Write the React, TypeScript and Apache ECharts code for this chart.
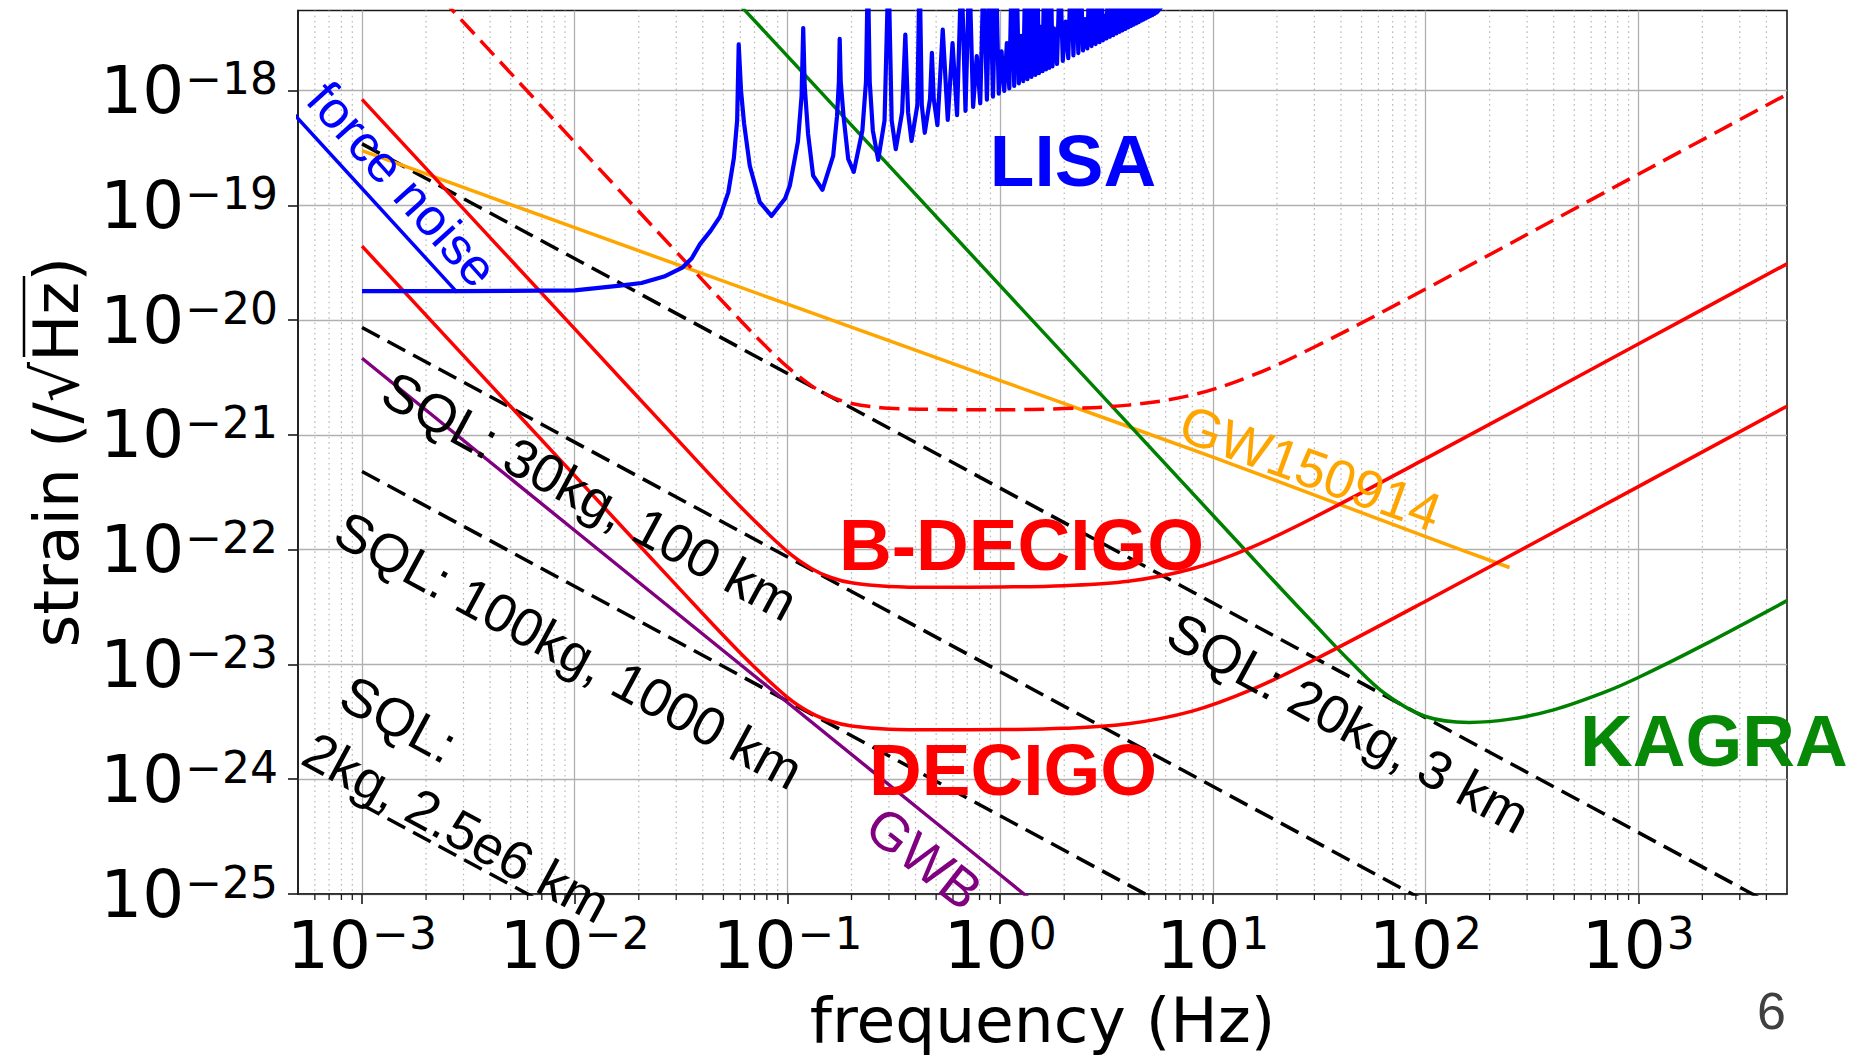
import React, { useEffect, useRef } from 'react';
import * as echarts from 'echarts';

// ---------- axis ranges & ticks ----------
const X_MIN = 5e-4;
const X_MAX = 5e3;
const Y_MIN = 1e-25;
const Y_MAX = 5e-18;

const xTickValues = [1e-3, 1e-2, 1e-1, 1, 10, 100, 1000];
const xTickExponents = ['−3', '−2', '−1', '0', '1', '2', '3'];
const yTickValues = [1e-25, 1e-24, 1e-23, 1e-22, 1e-21, 1e-20, 1e-19, 1e-18];
const yTickExponents = ['−25', '−24', '−23', '−22', '−21', '−20', '−19', '−18'];
const minorMantissas = [2, 3, 4, 5, 6, 7, 8, 9];
const minorDecades = [1e-4, 1e-3, 1e-2, 1e-1, 1, 10, 100, 1000];

// ---------- series data: [frequency (Hz), strain (/sqrt Hz)] ----------
const sql20kg3km = [[0.001, 3.44e-19], [10000, 3.44e-26]];
const sql30kg100km = [[0.001, 8.65e-21], [100, 8.65e-26]];
const sql100kg1000km = [[0.001, 4.8e-22], [10, 4.8e-26]];
const sql2kg = [[0.001, 6.0e-25], [0.01, 6.0e-26]];

const gwb = [[0.001, 4.66e-21], [0.01, 1.47e-22], [0.1, 4.66e-24], [1, 1.47e-25], [2, 5.2e-26]];

const gw150914 = [[0.001, 3.0e-19], [0.01, 6.4e-20], [0.1, 1.38e-20], [1, 2.98e-21], [10, 6.4e-22], [100, 1.3e-22], [248, 7.0e-23]];

const kagra = [[0.03, 2.2e-17], [0.1, 2.0e-18], [1, 2.0e-20], [10, 2.0e-22], [20, 5.0e-23], [30, 2.25e-23], [45, 1.03e-23], [65, 5.5e-24], [100, 3.52e-24], [160, 3.13e-24], [250, 3.34e-24], [400, 4.02e-24], [700, 5.77e-24], [1000, 7.7e-24], [2000, 1.46e-23], [5000, 3.6e-23]];

const decigoDashed = [[0.001, 3.55e-17], [0.003, 3.95e-18], [0.01, 3.55e-19], [0.03, 3.95e-20], [0.06, 1.0e-20], [0.08, 5.8e-21], [0.1, 3.92e-21], [0.13, 2.68e-21], [0.16, 2.16e-21], [0.2, 1.88e-21], [0.3, 1.71e-21], [0.5, 1.67e-21], [1, 1.66e-21], [2, 1.70e-21], [4, 1.82e-21], [8, 2.23e-21], [15, 3.25e-21], [30, 5.84e-21], [100, 1.87e-20], [1000, 1.87e-19], [5000, 9.3e-19]];

const bDecigo = [[0.001, 8.4e-19], [0.01, 8.4e-21], [0.03, 9.33e-22], [0.06, 2.38e-22], [0.1, 9.63e-23], [0.13, 6.84e-23], [0.16, 5.73e-23], [0.2, 5.15e-23], [0.3, 4.79e-23], [0.5, 4.71e-23], [1, 4.74e-23], [2, 4.86e-23], [4, 5.31e-23], [8, 6.83e-23], [15, 1.04e-22], [30, 1.92e-22], [100, 6.22e-22], [1000, 6.2e-21], [5000, 3.1e-20]];

const decigo = [[0.001, 4.42e-20], [0.01, 4.42e-22], [0.03, 4.91e-23], [0.06, 1.26e-23], [0.1, 5.17e-24], [0.13, 3.75e-24], [0.16, 3.2e-24], [0.2, 2.91e-24], [0.3, 2.73e-24], [0.5, 2.7e-24], [1, 2.71e-24], [2, 2.78e-24], [4, 3.04e-24], [8, 3.92e-24], [15, 5.97e-24], [30, 1.1e-23], [100, 3.56e-23], [1000, 3.55e-22], [5000, 1.78e-21]];

// LISA: low-frequency floor and first resolved resonances
const lisaLow = [
  [0.001, 1.79e-20], [0.003, 1.79e-20], [0.01, 1.82e-20], [0.0163, 2.0e-20], [0.0206, 2.11e-20], [0.0263, 2.4e-20],
  [0.0322, 2.89e-20], [0.0355, 3.47e-20], [0.0388, 4.6e-20], [0.0435, 6.0e-20], [0.0482, 8.0e-20], [0.0527, 1.3e-19],
  [0.056, 2.6e-19], [0.058, 5.5e-19], [0.059, 2.54e-18], [0.0605, 1.0e-18], [0.0625, 5.2e-19], [0.0665, 2.22e-19],
  [0.0741, 1.07e-19], [0.0841, 8.1e-20],
  [0.0975, 1.15e-19], [0.1026, 1.49e-19], [0.112, 3.6e-19], [0.1165, 9e-19], [0.1186, 3.52e-18], [0.1205, 1.1e-18], [0.125, 4.2e-19], [0.132, 1.82e-19], [0.146, 1.37e-19],
  [0.164, 2.7e-19], [0.171, 6e-19], [0.1745, 1.2e-18], [0.176, 2.83e-18], [0.178, 1.2e-18], [0.1835, 6e-19], [0.193, 2.54e-19], [0.205, 1.96e-19],
  [0.225, 4.5e-19], [0.234, 1.2e-18], [0.2388, 1.2e-17], [0.2436, 1.2e-18], [0.252, 4.5e-19], [0.267, 2.5e-19],
  [0.286, 5.5e-19], [0.2985, 1.2e-17], [0.309, 5.5e-19], [0.323, 3.09e-19],
  [0.346, 6.5e-19], [0.3582, 3.08e-18], [0.369, 6.5e-19], [0.383, 3.65e-19],
  [0.408, 7.5e-19], [0.418, 1.2e-17], [0.428, 7.5e-19], [0.442, 4.3e-19],
  [0.468, 8.5e-19], [0.4776, 2.14e-18], [0.487, 8.5e-19], [0.507, 5.0e-19],
];
// LISA: dense resonance region, peaks and the troughs that follow them
const lisaPeaks = [
  [0.537, 3.4e-18], [0.597, 2.6e-18], [0.657, 1.2e-17], [0.716, 1.2e-17], [0.776, 2.0e-18], [0.836, 1.2e-17],
  [0.896, 1.2e-17], [0.955, 1.2e-17], [1.015, 2.2e-18], [1.075, 2.6e-18], [1.134, 1.2e-17], [1.194, 1.2e-17],
  [1.254, 3.0e-18], [1.313, 1.2e-17], [1.373, 1.2e-17], [1.433, 1.2e-17], [1.493, 1.2e-17], [1.552, 3.6e-18],
  [1.612, 1.2e-17], [1.672, 1.2e-17], [1.731, 1.2e-17], [1.791, 3.5e-18], [1.910, 1.2e-17], [2.030, 4.0e-18],
  [2.149, 1.2e-17], [2.269, 1.2e-17], [2.388, 1.2e-17], [2.507, 4.2e-18], [2.627, 1.2e-17], [2.746, 1.2e-17],
  [2.866, 1.2e-17], [2.985, 1.2e-17], [3.104, 4.5e-18], [3.224, 1.2e-17], [3.343, 1.2e-17], [3.463, 1.2e-17],
  [3.582, 1.2e-17], [3.701, 1.2e-17], [3.821, 1.2e-17], [3.940, 1.2e-17], [4.060, 1.2e-17], [4.179, 1.2e-17],
  [4.298, 1.2e-17], [4.418, 1.2e-17], [4.537, 1.2e-17], [4.657, 1.2e-17], [4.776, 1.2e-17], [4.895, 1.2e-17],
  [5.015, 1.2e-17], [5.134, 1.2e-17], [5.254, 1.2e-17], [5.373, 1.2e-17],
];
const lisaTroughs = [
  [0.567, 5.57e-19], [0.627, 6.12e-19], [0.687, 6.68e-19], [0.746, 7.23e-19], [0.806, 7.78e-19], [0.866, 8.34e-19],
  [0.925, 8.88e-19], [0.985, 9.42e-19], [1.045, 9.96e-19], [1.104, 1.05e-18], [1.164, 1.10e-18], [1.224, 1.16e-18],
  [1.284, 1.21e-18], [1.343, 1.26e-18], [1.403, 1.32e-18], [1.463, 1.37e-18], [1.522, 1.42e-18], [1.582, 1.48e-18],
  [1.642, 1.53e-18], [1.701, 1.58e-18], [1.761, 1.63e-18], [1.85, 1.71e-18], [1.97, 1.82e-18], [2.09, 1.92e-18],
  [2.21, 2.03e-18], [2.33, 2.13e-18], [2.45, 2.24e-18], [2.57, 2.34e-18], [2.69, 2.45e-18], [2.81, 2.55e-18],
  [2.93, 2.65e-18], [3.04, 2.75e-18], [3.16, 2.85e-18], [3.28, 2.95e-18], [3.40, 3.05e-18], [3.52, 3.16e-18],
  [3.64, 3.26e-18], [3.76, 3.36e-18], [3.88, 3.46e-18], [4.00, 3.56e-18], [4.12, 3.66e-18], [4.24, 3.76e-18],
  [4.36, 3.86e-18], [4.48, 3.96e-18], [4.60, 4.07e-18], [4.72, 4.17e-18], [4.84, 4.27e-18], [4.96, 4.37e-18],
  [5.07, 4.46e-18], [5.19, 4.56e-18], [5.31, 4.66e-18], [5.45, 4.8e-18], [6.0, 6.0e-18],
];
const lisaForceNoise = [[4.73e-4, 6.4e-19], [2.8e-3, 1.75e-20]];

// ---------- annotations ----------
const annoTexts = ['LISA', 'B-DECIGO', 'DECIGO', 'KAGRA', 'GW150914', 'force noise', 'SQL: 30kg, 100 km', 'SQL: 100kg, 1000 km', 'SQL: 20kg, 3 km', 'SQL:', '2kg, 2.5e6 km', 'GWB'];
const annoAnchors = [[2.2, 2.48e-19], [1.26, 1.12e-22], [1.15, 1.22e-24], [2265, 2.18e-24], [28.8, 5.16e-22], [1.55e-3, 1.54e-19], [0.0118, 2.95e-22], [0.0094, 1.34e-23], [43.5, 3.12e-24], [1.495e-3, 3.35e-24], [2.79e-3, 3.82e-25], [0.44, 2.06e-25]];
const annoColors = ['#0000ff', '#ff0000', '#ff0000', '#078807', '#ffa500', '#0000ff', '#000000', '#000000', '#000000', '#000000', '#000000', '#800080'];
const annoSizes = [73, 73, 73, 73, 54, 52, 54, 54, 54, 54, 54, 54];
const annoBold = [true, true, true, true, false, false, false, false, false, false, false, false];
const annoAngles = [0, 0, 0, 0, -20, -48, -28.5, -28.5, -28.5, -28.5, -28.5, -38];

const SANS = 'Liberation Sans, Arial, sans-serif';
const DJV = 'DejaVu Sans, sans-serif';

function expLabel(values: number[], exps: string[]) {
  return (v: number) => {
    for (let i = 0; i < values.length; i++) {
      if (Math.abs(Math.log10(v) - Math.log10(values[i])) < 1e-6) return `{b|10}{s|${exps[i]}}`;
    }
    return '';
  };
}

const labelRich = {
  b: { fontFamily: DJV, fontSize: 66, lineHeight: 80, color: '#000' },
  s: { fontFamily: DJV, fontSize: 44, lineHeight: 24, verticalAlign: 'top', padding: [6, 0, 0, 1], color: '#000' },
};

function lineSeries(name: string, data: number[][], color: string, width: number, dashed: boolean, smooth: number | boolean, z = 3, clip = true) {
  return {
    type: 'line', name, data, showSymbol: false, symbol: 'none', smooth, clip, z, silent: true,
    lineStyle: { color, width, type: dashed ? [20, 9] : 'solid', cap: 'butt', join: 'round' },
  };
}

export default function App() {
  const ref = useRef<HTMLDivElement>(null);
  useEffect(() => {
    if (!ref.current) return;
    const chart = echarts.init(ref.current, null, { renderer: 'svg' });

    const minorFreqs: number[] = [];
    minorDecades.forEach((d) => minorMantissas.forEach((m) => {
      const v = m * d;
      if (v > X_MIN * 1.0001 && v < X_MAX * 0.9999) minorFreqs.push(v);
    }));

    const lisa: number[][] = [...lisaLow];
    lisaPeaks.forEach((p, i) => { lisa.push(p); if (lisaTroughs[i]) lisa.push(lisaTroughs[i]); });
    for (let i = lisaPeaks.length; i < lisaTroughs.length; i++) lisa.push(lisaTroughs[i]);

    const option: any = {
      animation: false,
      backgroundColor: '#ffffff',
      grid: { left: 298, top: 10.5, width: 1489, height: 887.5, show: true, borderColor: '#1a1a1a', borderWidth: 1.6, backgroundColor: 'transparent' },
      xAxis: {
        type: 'log', logBase: 10, min: X_MIN, max: X_MAX,
        name: 'frequency (Hz)', nameLocation: 'middle', nameGap: 95,
        nameTextStyle: { fontFamily: DJV, fontSize: 63, color: '#000' },
        axisLine: { show: true, lineStyle: { color: '#1a1a1a', width: 1.6 } },
        axisTick: { show: true, length: 10, customValues: xTickValues, lineStyle: { color: '#1a1a1a', width: 1.6 } },
        axisLabel: { show: true, margin: 11, customValues: xTickValues, formatter: expLabel(xTickValues, xTickExponents), rich: labelRich, showMinLabel: true, showMaxLabel: true },
        splitLine: { show: true, lineStyle: { color: '#b0b0b0', width: 1.3 } },
        minorTick: { show: false }, minorSplitLine: { show: false },
      },
      yAxis: {
        type: 'log', logBase: 10, min: Y_MIN, max: Y_MAX,
        name: 'strain (/√Hz)', nameLocation: 'middle', nameGap: 210, nameRotate: 90,
        nameTextStyle: { fontFamily: DJV, fontSize: 63, color: '#000' },
        axisLine: { show: true, lineStyle: { color: '#1a1a1a', width: 1.6 } },
        axisTick: { show: true, length: 10, customValues: yTickValues, lineStyle: { color: '#1a1a1a', width: 1.6 } },
        axisLabel: { show: true, margin: 20, customValues: yTickValues, formatter: expLabel(yTickValues, yTickExponents), rich: labelRich, showMinLabel: true, showMaxLabel: true },
        splitLine: { show: true, lineStyle: { color: '#b0b0b0', width: 1.3 } },
        minorTick: { show: false }, minorSplitLine: { show: false },
      },
      series: [
        {
          type: 'custom', name: 'minor grid', coordinateSystem: 'cartesian2d', silent: true, z: 1, clip: false,
          data: minorFreqs.map((f) => [f, Y_MIN]),
          encode: { x: 0, y: 1 },
          renderItem: (_params: any, api: any) => {
            const f = api.value(0);
            const pb = api.coord([f, Y_MIN]);
            const pt = api.coord([f, Y_MAX]);
            return {
              type: 'group',
              children: [
                { type: 'line', shape: { x1: pb[0], y1: pt[1], x2: pb[0], y2: pb[1] }, style: { stroke: '#b8b8b8', lineWidth: 1.2, lineDash: [1.6, 3.6] } },
                { type: 'line', shape: { x1: pb[0], y1: pb[1], x2: pb[0], y2: pb[1] + 6 }, style: { stroke: '#1a1a1a', lineWidth: 1.3 } },
              ],
            };
          },
        },
        lineSeries('SQL: 20kg, 3 km', sql20kg3km, '#000000', 3.5, true, false),
        lineSeries('SQL: 30kg, 100 km', sql30kg100km, '#000000', 3.5, true, false),
        lineSeries('SQL: 100kg, 1000 km', sql100kg1000km, '#000000', 3.5, true, false),
        lineSeries('SQL: 2kg, 2.5e6 km', sql2kg, '#000000', 3.5, true, false),
        lineSeries('GWB', gwb, '#800080', 3.4, false, false),
        lineSeries('GW150914', gw150914, '#ffa500', 3.5, false, 0.3),
        lineSeries('KAGRA', kagra, '#008000', 3.5, false, 0.35),
        lineSeries('DECIGO (dashed)', decigoDashed, '#ff0000', 3.5, true, 0.35),
        lineSeries('B-DECIGO', bDecigo, '#ff0000', 3.5, false, 0.35),
        lineSeries('DECIGO', decigo, '#ff0000', 3.5, false, 0.35),
        lineSeries('LISA', lisa, '#0000ff', 4.2, false, false, 4),
        lineSeries('LISA force noise', lisaForceNoise, '#0000ff', 3.5, false, false, 4, false),
      ],
    };
    chart.setOption(option);

    const graphics: any[] = annoTexts.map((t, i) => {
      const p = chart.convertToPixel({ gridIndex: 0 }, annoAnchors[i]) as number[];
      return {
        type: 'text', x: p[0], y: p[1], rotation: (annoAngles[i] * Math.PI) / 180, silent: true, z: 100,
        style: {
          text: t, fill: annoColors[i], fontSize: annoSizes[i], fontFamily: SANS, fontWeight: annoBold[i] ? 'bold' : 'normal',
          align: 'center', verticalAlign: 'middle', textAlign: 'center', textVerticalAlign: 'middle',
        },
      };
    });
    // overline of the square root in the y-axis title
    graphics.push({ type: 'line', silent: true, z: 100, shape: { x1: 24, y1: 357, x2: 24, y2: 276 }, style: { stroke: '#000', lineWidth: 2.5 } });
    // page number
    graphics.push({
      type: 'text', x: 1771.5, y: 1011, silent: true, z: 100,
      style: { text: '6', fill: '#404040', fontSize: 52, fontFamily: SANS, align: 'center', verticalAlign: 'middle', textAlign: 'center', textVerticalAlign: 'middle' },
    });
    chart.setOption({ graphic: graphics });

    return () => chart.dispose();
  }, []);
  return <div ref={ref} style={{ position: 'fixed', left: 0, top: 0, width: 1850, height: 1057, background: '#fff' }} />;
}
